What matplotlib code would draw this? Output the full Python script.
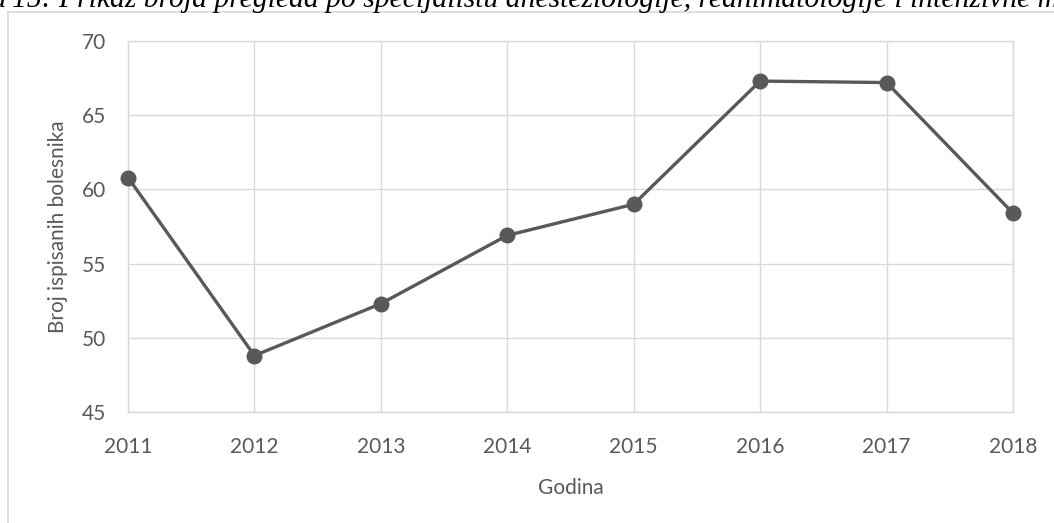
import matplotlib.pyplot as plt
from matplotlib.lines import Line2D

years = [2011, 2012, 2013, 2014, 2015, 2016, 2017, 2018]
patients = [60.8, 48.8, 52.3, 56.9, 59.0, 67.3, 67.2, 58.4]
y_ticks = [45, 50, 55, 60, 65, 70]

plt.rcParams['font.family'] = ['Lato', 'DejaVu Sans']

W, H = 1054, 523
fig = plt.figure(figsize=(W / 100, H / 100), dpi=100)
ax = fig.add_axes([128 / W, 1 - 412 / H, (1013 - 128) / W, (412 - 41) / H])

ax.plot(years, patients, color="#595959", linewidth=2.4,
        marker="o", markersize=10.5, zorder=3, clip_on=False)

ax.set_xlim(2011, 2018)
ax.set_ylim(45, 70)
ax.set_xticks(years)
ax.set_yticks(y_ticks)
ax.grid(True, color="#d9d9d9", linewidth=1.0)
ax.set_axisbelow(True)
for s in ax.spines.values():
    s.set_color("#d9d9d9")
    s.set_linewidth(1.0)
ax.tick_params(length=0, labelsize=15, labelcolor="#595959")
ax.tick_params(axis="y", pad=16)
ax.tick_params(axis="x", pad=18)

ax.set_xlabel("Godina", fontsize=15, color="#595959", labelpad=15)
ax.set_ylabel("Broj ispisanih bolesnika", fontsize=15, color="#595959", labelpad=10)

# chart frame (cut off by the screenshot)
fig.add_artist(Line2D([8 / W, 8 / W], [0, 1 - 12 / H], color="#d9d9d9", linewidth=1.2))
fig.add_artist(Line2D([8 / W, 1], [1 - 12 / H, 1 - 12 / H], color="#d9d9d9", linewidth=1.2))

# caption partly cut off at the top, as in the screenshot
fig.text(7 / W, 1 - 7 / H, "Slika", ha="right", va="baseline", fontsize=21.3,
         family="Liberation Serif", style="italic", color="black")
fig.text(12 / W, 1 - 7 / H,
         "15: Prikaz broja pregleda po specijalistu anesteziologije, reanimatologije i intenzivne medicine",
         ha="left", va="baseline", fontsize=21.3, family="Liberation Serif",
         style="italic", color="black")

fig.savefig("out.png", dpi=100)
